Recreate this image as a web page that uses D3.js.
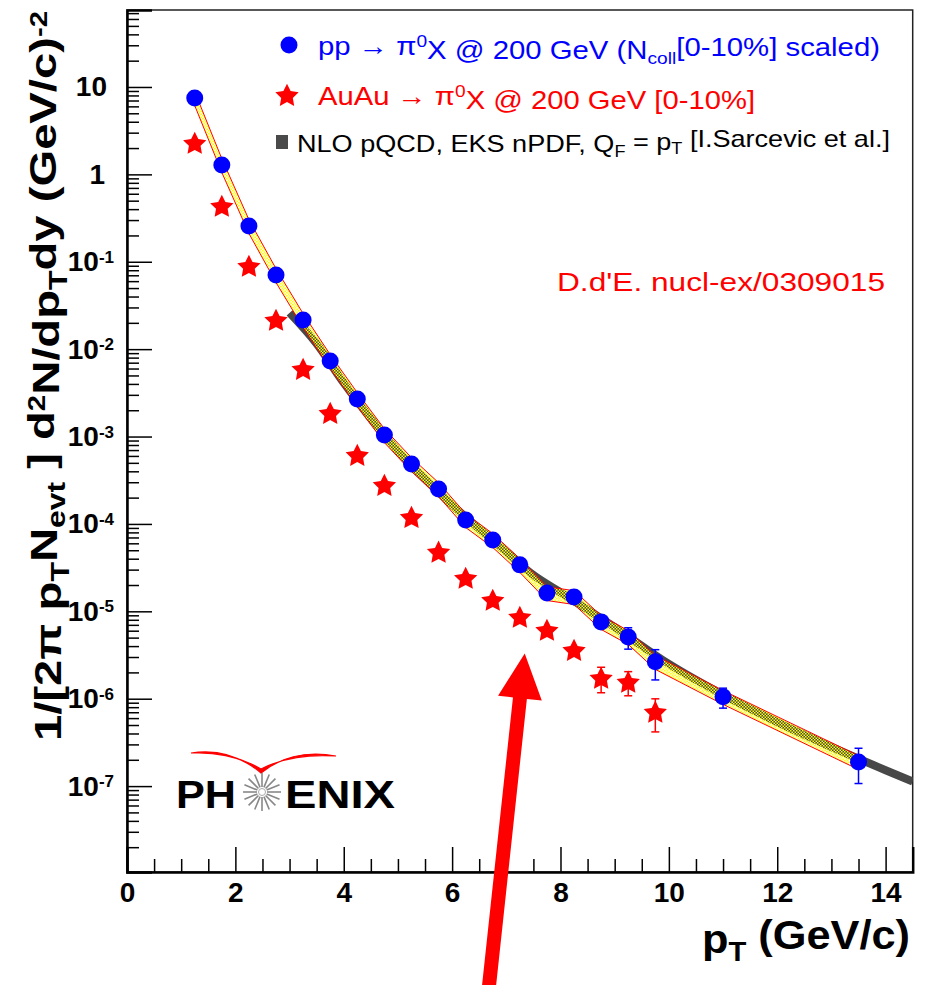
<!DOCTYPE html>
<html>
<head>
<meta charset="utf-8">
<script src="https://cdn.jsdelivr.net/npm/d3@7/dist/d3.min.js"></script>
<style>
  body { margin: 0; background: #fff; }
  text { font-family: "Liberation Sans", Arial, Helvetica, sans-serif; }
</style>
</head>
<body>
<div id="chart"></div>
<script>
// ---- data ----
var ppPt    = [1.25, 1.75, 2.25, 2.75, 3.25, 3.75, 4.25, 4.75, 5.25, 5.75, 6.25, 6.75, 7.25, 7.75, 8.25, 8.75, 9.25, 9.75, 11, 13.5];
var ppYield = [7.48, 1.28, 0.257, 0.0706, 0.0216, 0.00733, 0.00269, 1.04e-3, 4.85e-4, 2.51e-4, 1.11e-4, 6.56e-5, 3.40e-5, 1.62e-5, 1.46e-5, 7.57e-6, 5.09e-6, 2.64e-6, 1.05e-6, 1.89e-7];
var ppErr   = [0, 0, 0, 0, 0, 0, 0, 0, 0, 0, 0, 0, 0, 0, 0, 0.5e-6, 1.4e-6, 1.0e-6, 0.27e-6, 0.82e-7];

var auPt    = [1.25, 1.75, 2.25, 2.75, 3.25, 3.75, 4.25, 4.75, 5.25, 5.75, 6.25, 6.75, 7.25, 7.75, 8.25, 8.75, 9.25, 9.75];
var auYield = [2.29, 0.435, 0.0895, 0.0216, 0.00593, 0.00186, 6.15e-4, 2.79e-4, 1.20e-4, 4.79e-5, 2.41e-5, 1.35e-5, 8.63e-6, 6.12e-6, 3.61e-6, 1.73e-6, 1.56e-6, 7.07e-7];
var auErr   = [0, 0, 0, 0, 0, 0, 0, 0, 0, 0, 0, 0, 0, 0, 0, 0.56e-6, 0.48e-6, 0.29e-6];

var nloPt    = [3.0, 3.5, 4.0, 5.0, 6.0, 7.0, 7.5, 8.0, 9.0, 10, 11, 12, 13, 14, 14.5];
var nloYield = [0.026, 0.0115, 0.0041, 6.8e-4, 1.65e-4, 4.8e-5, 2.6e-5, 1.65e-5, 6.6e-6, 2.5e-6, 1.11e-6, 5.4e-7, 2.8e-7, 1.52e-7, 1.13e-7];

var xMajor = [0, 2, 4, 6, 8, 10, 12, 14];
var xMinor = [0.5, 1, 1.5, 2.5, 3, 3.5, 4.5, 5, 5.5, 6.5, 7, 7.5, 8.5, 9, 9.5, 10.5, 11, 11.5, 12.5, 13, 13.5, 14.5];
var yDecades = [1, 0, -1, -2, -3, -4, -5, -6, -7];

// arrow annotation [pT, yield]
var arrowFrom = [6.64, 3e-10];
var arrowTo   = [7.34, 3.3e-6];

// ---- layout ----
var W = 928, H = 985;
var margin = {top: 10, right: 15.3, bottom: 113, left: 127},
    width = W - margin.left - margin.right,
    height = H - margin.top - margin.bottom;

var svg = d3.select("#chart").append("svg")
    .attr("width", W).attr("height", H);

var defs = svg.append("defs");
var pat = defs.append("pattern").attr("id", "band")
    .attr("width", 3).attr("height", 3).attr("patternUnits", "userSpaceOnUse");
pat.append("rect").attr("width", 1.5).attr("height", 1.5).attr("fill", "#ffff00");
pat.append("rect").attr("x", 1.5).attr("y", 1.5).attr("width", 1.5).attr("height", 1.5).attr("fill", "#ffff00");

var g = svg.append("g").attr("transform", "translate(" + margin.left + "," + margin.top + ")");

var x = d3.scaleLinear().domain([0, 14.5]).range([0, width]);
var y = d3.scaleLog().domain([1.04e-8, 76]).range([height, 0]);

// frame (top / right)
g.append("rect").attr("width", width).attr("height", height)
  .attr("fill", "none").attr("stroke", "#222").attr("stroke-width", 1.5);

// x axis
var xAxisMaj = g.append("g").attr("transform", "translate(0," + height + ")")
  .call(d3.axisBottom(x).tickValues(xMajor).tickSize(-25).tickPadding(10).tickFormat(d3.format("d")));
g.append("g").attr("transform", "translate(0," + height + ")")
  .call(d3.axisBottom(x).tickValues(xMinor).tickSize(-13).tickFormat(""))
  .select(".domain").remove();
xAxisMaj.selectAll("text")
  .style("font-size", "28px").style("font-weight", "bold").attr("fill", "#000");

// y axis
var yMinor = [];
for (var e = -8; e <= 1; e++) {
  for (var m = 2; m <= 9; m++) {
    var v = m * Math.pow(10, e);
    if (v > y.domain()[0] && v < y.domain()[1]) yMinor.push(v);
  }
}
var yAxisMaj = g.append("g")
  .call(d3.axisLeft(y).tickValues(yDecades.map(function(d) { return Math.pow(10, d); }))
    .tickSize(-25).tickPadding(13).tickFormat(""));
g.append("g")
  .call(d3.axisLeft(y).tickValues(yMinor).tickSize(-12).tickFormat(""))
  .select(".domain").remove();

yAxisMaj.selectAll(".tick").each(function(d, i) {
  var ex = yDecades[i];
  var t = d3.select(this).select("text")
    .text(null)
    .style("font-size", "28px").style("font-weight", "bold").attr("fill", "#000");
  if (ex === 1) { t.text("10").attr("x", -20); }
  else if (ex === 0) { t.text("1").attr("x", -22); }
  else {
    t.append("tspan").text("10");
    t.append("tspan").text(String(ex)).attr("dy", "-0.5em").style("font-size", "17px");
  }
});

g.selectAll(".domain").attr("stroke", "#000").attr("stroke-width", 2.5);
g.selectAll(".tick line").attr("stroke", "#000").attr("stroke-width", 1.5);

// clip for curves
defs.append("clipPath").attr("id", "plotclip")
  .append("rect").attr("width", width).attr("height", height);
var plot = g.append("g").attr("clip-path", "url(#plotclip)");

// NLO pQCD band (gray)
var nloLine = d3.line()
  .x(function(d, i) { return x(nloPt[i]); })
  .y(function(d) { return y(d); })
  .curve(d3.curveMonotoneX);
plot.append("path").datum(nloYield)
  .attr("d", nloLine)
  .attr("fill", "none").attr("stroke", "#484848").attr("stroke-width", 8);

// pp reference band (yellow with red edges)
var bandRel = 0.18;
var band = d3.area()
  .x(function(d, i) { return x(ppPt[i]); })
  .y0(function(d) { return y(d * (1 - bandRel)); })
  .y1(function(d) { return y(d * (1 + bandRel)); });
plot.append("path").datum(ppYield)
  .attr("d", band)
  .attr("fill", "url(#band)").attr("stroke", "#ff0000").attr("stroke-width", 1);

// error bars
function errBars(pts, vals, errs, color) {
  var idx = d3.range(pts.length).filter(function(i) { return errs[i] > 0; });
  var eb = g.append("g").attr("stroke", color).attr("stroke-width", 1.5);
  eb.selectAll("line.v").data(idx).enter().append("line")
    .attr("x1", function(i) { return x(pts[i]); })
    .attr("x2", function(i) { return x(pts[i]); })
    .attr("y1", function(i) { return y(vals[i] + errs[i]); })
    .attr("y2", function(i) { return y(vals[i] - errs[i]); });
  [1, -1].forEach(function(s) {
    eb.selectAll("line.c" + s).data(idx).enter().append("line")
      .attr("x1", function(i) { return x(pts[i]) - 4; })
      .attr("x2", function(i) { return x(pts[i]) + 4; })
      .attr("y1", function(i) { return y(vals[i] + s * errs[i]); })
      .attr("y2", function(i) { return y(vals[i] + s * errs[i]); });
  });
}
errBars(auPt, auYield, auErr, "#ff0000");
errBars(ppPt, ppYield, ppErr, "#0000ff");

// AuAu stars (fat ROOT-like star)
var fatStar = {
  draw: function(ctx, size) {
    var R = Math.sqrt(size), r = R * 0.5;
    for (var k = 0; k < 10; k++) {
      var a = -Math.PI / 2 + k * Math.PI / 5, rr = k % 2 ? r : R;
      if (k === 0) ctx.moveTo(rr * Math.cos(a), rr * Math.sin(a));
      else ctx.lineTo(rr * Math.cos(a), rr * Math.sin(a));
    }
    ctx.closePath();
  }
};
var star = d3.symbol().type(fatStar).size(150);
g.append("g").selectAll("path")
  .data(auYield).enter().append("path")
    .attr("d", star)
    .attr("transform", function(d, i) { return "translate(" + x(auPt[i]) + "," + (y(d) + 1) + ")"; })
    .attr("fill", "#ff0000");

// pp circles
g.append("g").selectAll("circle")
  .data(ppYield).enter().append("circle")
    .attr("cx", function(d, i) { return x(ppPt[i]); })
    .attr("cy", function(d) { return y(d); })
    .attr("r", 8.5)
    .attr("fill", "#0000ff");

// axis titles
svg.append("text")
  .attr("transform", "translate(61,11) rotate(-90)")
  .attr("text-anchor", "end")
  .attr("textLength", 730).attr("lengthAdjust", "spacingAndGlyphs")
  .style("font-size", "37px").style("font-weight", "bold")
  .call(function(t) {
    t.append("tspan").text("1/[2\u03c0 p");
    t.append("tspan").text("T").attr("dy", "0.3em").style("font-size", "25px");
    t.append("tspan").text("N").attr("dy", "-0.3em");
    t.append("tspan").text("evt").attr("dy", "0.3em").style("font-size", "25px");
    t.append("tspan").text(" ] d").attr("dy", "-0.3em");
    t.append("tspan").text("2").attr("dy", "-0.4em").style("font-size", "23px");
    t.append("tspan").text("N/dp").attr("dy", "0.4em");
    t.append("tspan").text("T").attr("dy", "0.3em").style("font-size", "25px");
    t.append("tspan").text("dy (GeV/c)").attr("dy", "-0.3em");
    t.append("tspan").text("-2").attr("dy", "-0.4em").style("font-size", "23px");
  });

svg.append("text")
  .attr("x", 910).attr("y", 953)
  .attr("text-anchor", "end")
  .attr("textLength", 208).attr("lengthAdjust", "spacingAndGlyphs")
  .style("font-size", "40px").style("font-weight", "bold")
  .call(function(t) {
    t.append("tspan").text("p");
    t.append("tspan").text("T").attr("dy", "0.3em").style("font-size", "27px");
    t.append("tspan").text(" (GeV/c)").attr("dy", "-0.3em");
  });

// legend
var leg = svg.append("g");
leg.append("circle").attr("cx", 289).attr("cy", 45).attr("r", 8.5).attr("fill", "#0000ff");
leg.append("path").attr("d", star).attr("transform", "translate(287,96)").attr("fill", "#ff0000");
leg.append("rect").attr("x", 276).attr("y", 135).attr("width", 12).attr("height", 14).attr("fill", "#4a4a4a");

leg.append("text").attr("x", 318).attr("y", 55).attr("fill", "#0000ff")
  .attr("textLength", 562).attr("lengthAdjust", "spacingAndGlyphs")
  .style("font-size", "26px")
  .call(function(t) {
    t.append("tspan").text("pp \u2192 \u03c0");
    t.append("tspan").text("0").attr("dy", "-0.45em").style("font-size", "17px");
    t.append("tspan").text("X @ 200 GeV (N").attr("dy", "0.45em");
    t.append("tspan").text("coll").attr("dy", "0.3em").style("font-size", "17px");
    t.append("tspan").text("[0-10%] scaled)").attr("dy", "-0.3em");
  });
leg.append("text").attr("x", 318).attr("y", 105).attr("fill", "#ff0000")
  .attr("textLength", 437).attr("lengthAdjust", "spacingAndGlyphs")
  .style("font-size", "26px")
  .call(function(t) {
    t.append("tspan").text("AuAu \u2192 \u03c0");
    t.append("tspan").text("0").attr("dy", "-0.45em").style("font-size", "17px");
    t.append("tspan").text("X @ 200 GeV [0-10%]").attr("dy", "0.45em");
  });
leg.append("text").attr("x", 297).attr("y", 152).attr("fill", "#000")
  .attr("textLength", 593).attr("lengthAdjust", "spacingAndGlyphs")
  .style("font-size", "24px")
  .call(function(t) {
    t.append("tspan").text("NLO pQCD, EKS nPDF, Q");
    t.append("tspan").text("F").attr("dy", "0.3em").style("font-size", "16px");
    t.append("tspan").text(" = p").attr("dy", "-0.3em");
    t.append("tspan").text("T").attr("dy", "0.3em").style("font-size", "16px");
    t.append("tspan").text(" [I.Sarcevic et al.]").attr("dy", "-0.3em");
  });

svg.append("text").attr("x", 557).attr("y", 291)
  .attr("textLength", 328).attr("lengthAdjust", "spacingAndGlyphs")
  .attr("fill", "#ff0000").style("font-size", "26px")
  .text("D.d'E. nucl-ex/0309015");

// PHENIX logo
var logo = svg.append("g");
logo.append("path")
  .attr("d", "M191,753 Q230,747 261,773 Q292,748 336,756 Q292,753 261,769 Q230,751 191,753Z")
  .attr("fill", "#ff0000").attr("stroke", "#ff0000").attr("stroke-width", 1.2);
logo.append("text").attr("x", 176).attr("y", 808)
  .attr("textLength", 60).attr("lengthAdjust", "spacingAndGlyphs")
  .style("font-size", "38px").style("font-weight", "bold").text("PH");
logo.append("text").attr("x", 285).attr("y", 808)
  .attr("textLength", 110).attr("lengthAdjust", "spacingAndGlyphs")
  .style("font-size", "38px").style("font-weight", "bold").text("ENIX");
var rays = d3.range(16);
logo.append("g").attr("transform", "translate(262,792)")
  .selectAll("line").data(rays).enter().append("line")
    .attr("x1", function(d) { return 5 * Math.cos(d * Math.PI / 8); })
    .attr("y1", function(d) { return 5 * Math.sin(d * Math.PI / 8); })
    .attr("x2", function(d) { return 19 * Math.cos(d * Math.PI / 8); })
    .attr("y2", function(d) { return 19 * Math.sin(d * Math.PI / 8); })
    .attr("stroke", "#888").attr("stroke-width", 1.6);
logo.append("circle").attr("cx", 262).attr("cy", 792).attr("r", 3.5)
  .attr("fill", "#fff").attr("stroke", "#aaa").attr("stroke-width", 1);

// big red arrow
(function() {
  var x0 = x(arrowFrom[0]) + margin.left, y0 = y(arrowFrom[1]) + margin.top;
  var x1 = x(arrowTo[0]) + margin.left,   y1 = y(arrowTo[1]) + margin.top;
  var dx = x1 - x0, dy = y1 - y0, L = Math.sqrt(dx * dx + dy * dy);
  var ux = dx / L, uy = dy / L, nx = -uy, ny = ux;
  var hw = 7, headL = 45, headW = 22;
  var bx = x1 - ux * headL, by = y1 - uy * headL;
  var pts = [
    [x0 + nx * hw, y0 + ny * hw],
    [bx + nx * hw, by + ny * hw],
    [bx + nx * headW, by + ny * headW],
    [x1, y1],
    [bx - nx * headW, by - ny * headW],
    [bx - nx * hw, by - ny * hw],
    [x0 - nx * hw, y0 - ny * hw]
  ];
  svg.append("path").attr("d", "M" + pts.join("L") + "Z").attr("fill", "#ff0000");
})();
</script>
</body>
</html>
